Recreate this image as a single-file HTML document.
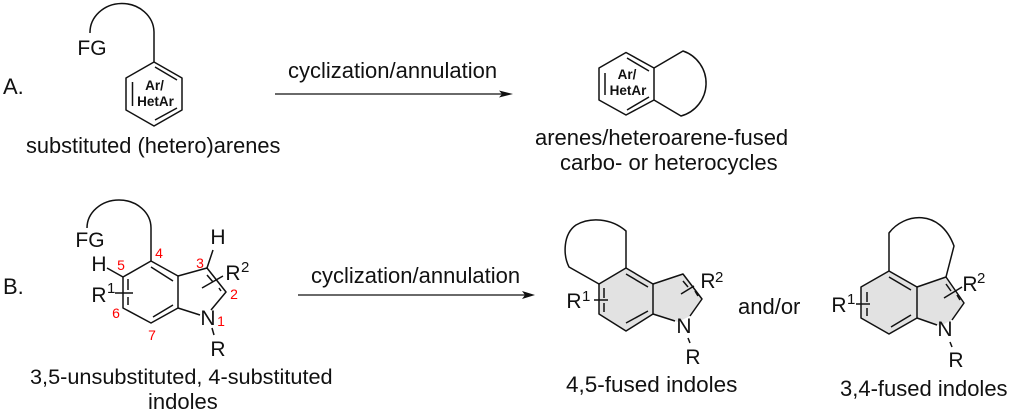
<!DOCTYPE html>
<html><head><meta charset="utf-8"><style>
html,body{margin:0;padding:0;background:#fff;width:1012px;height:414px;overflow:hidden}
svg{display:block}
text{font-family:"Liberation Sans",Arial,sans-serif;fill:#111}
.t{font-size:22px}
.a{font-size:21px;text-anchor:middle}
.s{font-size:15px}
.b{font-size:13.500px;font-weight:bold;text-anchor:middle}
.r{font-size:14px;fill:#f00;text-anchor:middle}
.l{fill:none;stroke:#111;stroke-width:1.5;stroke-linejoin:round}
</style></head><body>
<svg width="1012" height="414" viewBox="0 0 1012 414" xmlns="http://www.w3.org/2000/svg">
<!-- shading -->
<path d="M626 268L599 284V314L626 331L653 314L678 322L690 316L702 299L683 274L653 284Z" fill="#e2e2e2"/>
<path d="M889 271L861 287V318L889 334L917 318L940 326L952 320L964 303L946 277L917 287Z" fill="#e2e2e2"/>

<!-- A left -->
<path class="l" d="M154 62V32A32 29 0 0 0 90 33"/>
<path class="l" d="M154 62L182 78V110L154 126L126 110V78Z"/>
<path class="l" d="M155 67L177 80M177 108L155 120M132.500 82V106"/>
<text class="a" x="92" y="55">FG</text>
<text class="t" x="3" y="94">A.</text>
<text class="b" x="154.500" y="90">Ar/</text>
<text class="b" x="155.500" y="106">HetAr</text>
<text class="t" x="26" y="153" style="font-size:21.800px">substituted (hetero)arenes</text>

<!-- A arrow -->
<text class="t" x="288" y="78">cyclization/annulation</text>
<path d="M275 94H505" stroke="#111" stroke-width="1.300"/>
<path d="M499 90.500L513 94L499 97.500L502 94Z" fill="#111"/>

<!-- A right -->
<path class="l" d="M654 68L626 52.500L599 68V100L626 115L654 100Z"/>
<path class="l" d="M627 58L649 71M649 97L627 110M605 73V95"/>
<path class="l" d="M654 68L683 51A34 34 0 0 1 681 116L654 100"/>
<text class="b" x="627" y="79">Ar/</text>
<text class="b" x="628" y="95">HetAr</text>
<text class="t" x="535" y="145">arenes/heteroarene-fused</text>
<text class="t" x="560" y="170">carbo- or heterocycles</text>

<!-- B left -->
<text class="t" x="3" y="294">B.</text>
<path class="l" d="M151 261V228A32 28 0 0 0 87 228"/>
<path class="l" d="M151 261L123 277V308L151 323L178 308V276Z"/>
<path class="l" d="M151 267L173 281M173 305L153 317M128 279V290M128 297V305"/>
<path class="l" d="M178 276L207 268L226 292L211 310M178 308L200 315"/>
<path class="l" d="M207 275L213 282M219 288L221 291M207 268L213 250M107 268L123 277M115 293H133M202 288L223 276M212 328L214 335"/>
<text class="a" x="90" y="247">FG</text>
<text class="a" x="218" y="244">H</text>
<text class="a" x="99" y="271">H</text>
<text class="a" x="99" y="302">R</text><text class="s" x="107" y="293">1</text>
<text class="a" x="233" y="280">R</text><text class="s" x="241" y="272">2</text>
<text class="a" x="208" y="325">N</text>
<text class="a" x="218" y="356">R</text>
<text class="r" x="159" y="258">4</text>
<text class="r" x="121" y="270">5</text>
<text class="r" x="200" y="268">3</text>
<text class="r" x="234" y="299">2</text>
<text class="r" x="221" y="326">1</text>
<text class="r" x="116" y="318">6</text>
<text class="r" x="152" y="340">7</text>
<text class="t" x="30" y="384" style="font-size:21.700px">3,5-unsubstituted, 4-substituted</text>
<text class="t" x="148" y="409">indoles</text>

<!-- B arrow -->
<text class="t" x="311" y="283">cyclization/annulation</text>
<path d="M298 295H528" stroke="#111" stroke-width="1.300"/>
<path d="M522 291L535 295L522 299L525 295Z" fill="#111"/>

<!-- B middle -->
<path class="l" d="M599 284L626 268L653 284V314L626 331L599 314Z"/>
<path class="l" d="M626 274L648 287M648 311L626 323M604 288V298M604 303V312"/>
<path class="l" d="M653 284L683 274L702 299L690 316M653 314L675 321"/>
<path class="l" d="M683 281L688 287M695 291L698 296M681 294L694 286M594 300H608M688 338L690 343"/>
<path class="l" d="M626 268V231C611 218 590 217 576 225C563 234 563 255 569 267L599 284"/>
<text class="a" x="574" y="308">R</text><text class="s" x="582" y="301">1</text>
<text class="a" x="708" y="288">R</text><text class="s" x="715" y="282">2</text>
<text class="a" x="684" y="333">N</text>
<text class="a" x="693" y="364">R</text>
<text class="t" x="738" y="314">and/or</text>
<text class="t" x="566" y="392" style="font-size:22.500px">4,5-fused indoles</text>

<!-- B right -->
<path class="l" d="M861 287L889 271L917 287V318L889 334L861 318Z"/>
<path class="l" d="M889 277L911 290M911 315L891 327M867 292V302M867 308V316"/>
<path class="l" d="M917 287L946 277L964 303L952 320M917 318L937 325"/>
<path class="l" d="M946 284L951 291M957 295L960 300M944 298L962 287M856 304H870M950 342L952 347"/>
<path class="l" d="M889 271V233C904 213 940 208 954 246L946 277"/>
<text class="a" x="839" y="312">R</text><text class="s" x="847" y="304">1</text>
<text class="a" x="970" y="291">R</text><text class="s" x="977" y="283">2</text>
<text class="a" x="945" y="336">N</text>
<text class="a" x="956" y="367">R</text>
<text class="t" x="840" y="396">3,4-fused indoles</text>
</svg>
</body></html>
